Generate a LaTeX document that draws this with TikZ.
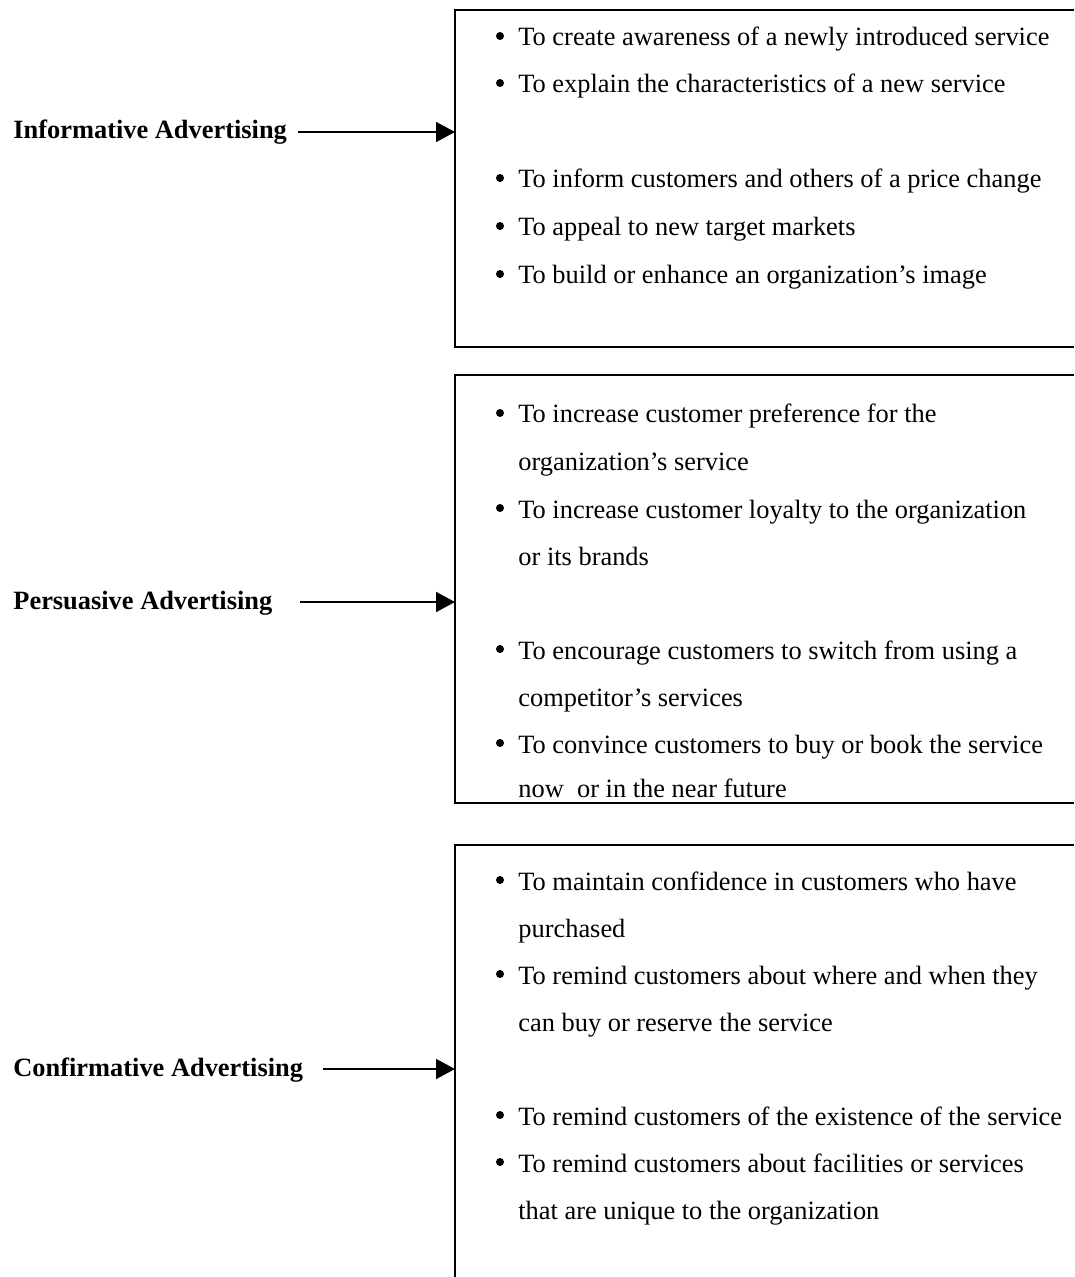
\documentclass[tikz,border=0pt]{standalone}
\usepackage{fontspec}
\setmainfont{Liberation Serif}
\usetikzlibrary{arrows.meta}
\tikzset{
    boxline/.style={draw=black,line width=1pt},
    feed/.style={draw=black,line width=0.75pt,-{Triangle[length=9.5pt,width=10pt]}},
    kind/.style={anchor=base west,inner sep=0pt,font=\fontsize{13.2}{15}\selectfont\bfseries},
    item/.style={anchor=base west,inner sep=0pt,font=\fontsize{13.2}{15}\selectfont},
    bul/.style={shape=circle,draw=none,fill=black,inner sep=0pt,minimum size=4pt}
}
\begin{document}
\begin{tikzpicture}[x=0.5pt,y=-0.5pt]
    \useasboundingbox (0,0) rectangle (1074,1277);
    % boxes, open to the right
    \draw[boxline] (1074,10) -- (455,10) -- (455,347) -- (1074,347);
    \draw[boxline] (1074,375) -- (455,375) -- (455,803) -- (1074,803);
    \draw[boxline] (1074,845) -- (455,845) -- (455,1277);
    % kinds of advertising
    \node[kind] (inf) at (13,139) {Informative Advertising};
    \node[kind] (per) at (13,609) {Persuasive Advertising};
    \node[kind] (con) at (13,1076) {Confirmative Advertising};
    \coordinate (inf-s) at (298,132);
    \coordinate (inf-e) at (455,132);
    \coordinate (per-s) at (300,602);
    \coordinate (per-e) at (455,602);
    \coordinate (con-s) at (323,1069);
    \coordinate (con-e) at (455,1069);
    \draw[feed] (inf-s) -- (inf-e);
    \draw[feed] (per-s) -- (per-e);
    \draw[feed] (con-s) -- (con-e);
    % informative
    \node[bul] (inf-b1) at (500,36) {};
    \node[item] (inf1) at (518,46) {To create awareness of a newly introduced service};
    \node[bul] (inf-b2) at (500,83) {};
    \node[item] (inf2) at (518,93) {To explain the characteristics of a new service};
    \node[bul] (inf-b3) at (500,178) {};
    \node[item] (inf3) at (518,188) {To inform customers and others of a price change};
    \node[bul] (inf-b4) at (500,226) {};
    \node[item] (inf4) at (518,236) {To appeal to new target markets};
    \node[bul] (inf-b5) at (500,274) {};
    \node[item] (inf5) at (518,284) {To build or enhance an organization’s image};
    % persuasive
    \node[bul] (per-b1) at (500,413) {};
    \node[item] (per1) at (518,423) {To increase customer preference for the};
    \node[item] (per1b) at (518,471) {organization’s service};
    \node[bul] (per-b2) at (500,508) {};
    \node[item] (per2) at (518,518) {To increase customer loyalty to the organization};
    \node[item] (per2b) at (518,565) {or its brands};
    \node[bul] (per-b3) at (500,649) {};
    \node[item] (per3) at (518,659) {To encourage customers to switch from using a};
    \node[item] (per3b) at (518,706) {competitor’s services};
    \node[bul] (per-b4) at (500,743) {};
    \node[item] (per4) at (518,753) {To convince customers to buy or book the service};
    \node[item] (per4b) at (518,797) {now\ \ or in the near future};
    % confirmative
    \node[bul] (con-b1) at (500,880) {};
    \node[item] (con1) at (518,890) {To maintain confidence in customers who have};
    \node[item] (con1b) at (518,937) {purchased};
    \node[bul] (con-b2) at (500,974) {};
    \node[item] (con2) at (518,984) {To remind customers about where and when they};
    \node[item] (con2b) at (518,1031) {can buy or reserve the service};
    \node[bul] (con-b3) at (500,1115) {};
    \node[item] (con3) at (518,1125) {To remind customers of the existence of the service};
    \node[bul] (con-b4) at (500,1162) {};
    \node[item] (con4) at (518,1172) {To remind customers about facilities or services};
    \node[item] (con4b) at (518,1219) {that are unique to the organization};
\end{tikzpicture}
\end{document}
